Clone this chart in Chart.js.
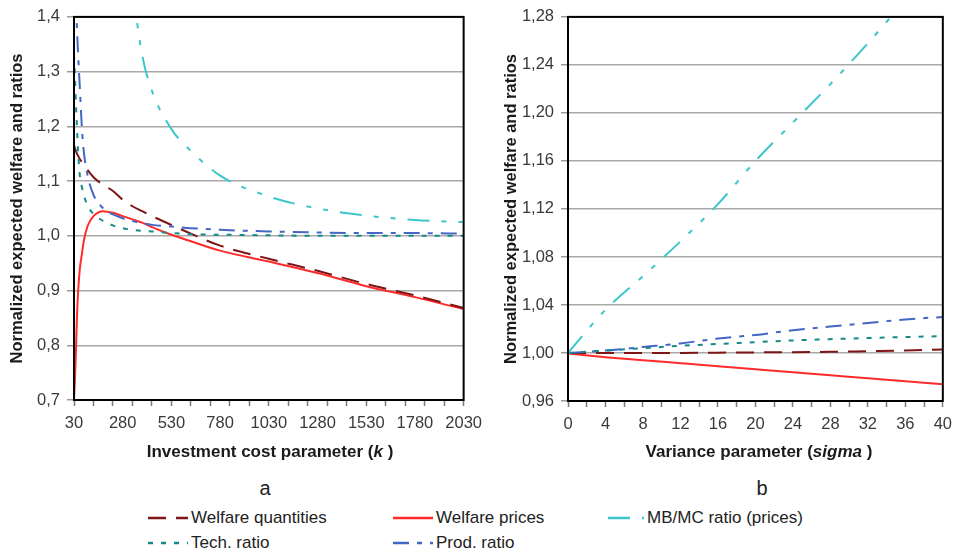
<!DOCTYPE html>
<html>
<head>
<meta charset="utf-8">
<script src="https://cdn.jsdelivr.net/npm/chart.js@4.4.1/dist/chart.umd.min.js"></script>
<style>
  html, body { margin: 0; padding: 0; background: #fff; }
  body { width: 960px; height: 555px; position: relative; overflow: hidden; font-family: "Liberation Sans", Arial, sans-serif; color: #222; }
  canvas { position: absolute; top: 0; }
  #chartA { left: 0; }
  #chartB { left: 480px; }
  .lbl { position: absolute; transform: translate(-50%, -50%); white-space: nowrap; }
  .xt { font-weight: bold; font-size: 17px; color: #1a1a1a; }
  .panel { font-size: 20px; color: #222; }
  .leg { position: absolute; height: 20px; font-size: 17px; line-height: 20px; color: #222; white-space: nowrap; }
  .leg svg { position: absolute; left: 0; top: 0; }
</style>
</head>
<body>
<canvas id="chartA" width="490" height="470"></canvas>
<canvas id="chartB" width="480" height="470"></canvas>

<div class="lbl xt" style="left:270px; top:452px;">Investment cost parameter (<i>k</i> )</div>
<div class="lbl xt" style="left:759px; top:452px;">Variance parameter (<i>sigma</i> )</div>
<div class="lbl panel" style="left:265px; top:488px;">a</div>
<div class="lbl panel" style="left:762px; top:488px;">b</div>
<div id="legend"></div>

<script>
'use strict';

// ---- panel a: investment cost parameter k ----
const kValues = [30, 35, 40, 45, 50, 60, 70, 80, 100, 130, 180, 230, 280, 330, 380, 430, 530, 630, 780, 1030, 1280, 1530, 1780, 2030];
const kWelfareQuantities = [1.165, 1.16, 1.155, 1.15, 1.147, 1.14, 1.135, 1.13, 1.12, 1.107, 1.093, 1.082, 1.066, 1.054, 1.045, 1.036, 1.02, 1.004, 0.982, 0.958, 0.936, 0.912, 0.891, 0.868];
const kWelfarePrices = [0.70, 0.74, 0.79, 0.85, 0.89, 0.94, 0.965, 0.99, 1.018, 1.036, 1.045, 1.042, 1.036, 1.030, 1.024, 1.016, 1.002, 0.990, 0.973, 0.953, 0.932, 0.908, 0.888, 0.866];
const kMbMcRatio = [null, null, null, null, null, null, null, null, null, null, null, null, null, 1.45, 1.33, 1.265, 1.195, 1.155, 1.11, 1.072, 1.05, 1.037, 1.029, 1.025];
const kTechRatio = [1.33, 1.29, 1.24, 1.2, 1.16, 1.11, 1.09, 1.075, 1.055, 1.04, 1.027, 1.019, 1.014, 1.011, 1.009, 1.008, 1.005, 1.003, 1.002, 1.001, 1.0, 1.0, 1.0, 1.0];
const kProdRatio = [1.5, 1.46, 1.42, 1.38, 1.34, 1.27, 1.2, 1.155, 1.11, 1.075, 1.05, 1.039, 1.032, 1.027, 1.023, 1.02, 1.017, 1.014, 1.011, 1.008, 1.006, 1.005, 1.005, 1.004];

const kLabelTicks = [30, 280, 530, 780, 1030, 1280, 1530, 1780, 2030];
const kMarkTicks = [30, 130, 230, 330, 430, 530, 630, 730, 830, 930, 1030, 1130, 1230, 1330, 1430, 1530, 1630, 1730, 1830, 1930, 2030];
const yTicksA = [0.7, 0.8, 0.9, 1.0, 1.1, 1.2, 1.3, 1.4];

// ---- panel b: variance parameter sigma ----
const sigmaValues = [0, 4, 8, 12, 16, 20, 24, 28, 32, 36, 40];
const sWelfareQuantities = [1.0, 1.0, 1.0, 1.0, 1.0003, 1.0005, 1.0007, 1.001, 1.0015, 1.002, 1.003];
const sWelfarePrices = [0.9995, 0.9965, 0.994, 0.9915, 0.989, 0.9865, 0.984, 0.9815, 0.979, 0.9765, 0.974];
const sMbMcRatio = [1.0, 1.036, 1.064, 1.093, 1.124, 1.16, 1.192, 1.224, 1.258, 1.294, 1.33];
const sTechRatio = [1.0, 1.002, 1.004, 1.006, 1.0075, 1.009, 1.0105, 1.0115, 1.0125, 1.0133, 1.014];
const sProdRatio = [1.0, 1.002, 1.005, 1.008, 1.012, 1.015, 1.019, 1.022, 1.025, 1.028, 1.03];

const sigmaLabelTicks = [0, 4, 8, 12, 16, 20, 24, 28, 32, 36, 40];
const sigmaMarkTicks = [0, 2, 4, 6, 8, 10, 12, 14, 16, 18, 20, 22, 24, 26, 28, 30, 32, 34, 36, 38, 40];
const yTicksB = [0.96, 1.00, 1.04, 1.08, 1.12, 1.16, 1.20, 1.24, 1.28];

const seriesNames = ['Welfare quantities', 'Welfare prices', 'MB/MC ratio (prices)', 'Tech. ratio', 'Prod. ratio'];

// line looks
const looks = {
  'Welfare quantities': { color: '#7f1416', dash: [18, 10] },
  'Welfare prices': { color: '#ff2a2a', dash: [] },
  'MB/MC ratio (prices)': { color: '#3cc6cc', dash: [22, 12, 5, 12, 5, 12] },
  'Tech. ratio': { color: '#16898a', dash: [5, 8] },
  'Prod. ratio': { color: '#4466c4', dash: [16, 8, 5, 8] }
};

const FONT = '"Liberation Sans", Arial, sans-serif';

function toPoints(xs, ys) {
  return xs.map((x, i) => ({ x: x, y: ys[i] }));
}

function makeDatasets(xs, columns) {
  // draw order: light ones first, red on top
  const order = ['MB/MC ratio (prices)', 'Tech. ratio', 'Prod. ratio', 'Welfare quantities', 'Welfare prices'];
  return order.map(name => ({
    label: name,
    data: toPoints(xs, columns[name]),
    borderColor: looks[name].color,
    borderDash: looks[name].dash,
    borderWidth: 2,
    pointRadius: 0,
    fill: false,
    cubicInterpolationMode: 'monotone',
    spanGaps: false
  }));
}

const frame = {
  id: 'frame',
  afterDatasetsDraw(chart) {
    const a = chart.chartArea;
    const ctx = chart.ctx;
    ctx.save();
    ctx.strokeStyle = '#000';
    ctx.lineWidth = 2;
    ctx.strokeRect(a.left, a.top, a.right - a.left, a.bottom - a.top);
    ctx.restore();
  }
};

function buildChart(canvasId, cfg) {
  new Chart(document.getElementById(canvasId), {
    type: 'line',
    data: { datasets: makeDatasets(cfg.xs, cfg.columns) },
    options: {
      responsive: false,
      animation: false,
      devicePixelRatio: 1,
      layout: { padding: { top: cfg.padTop, right: cfg.padRight, left: 0, bottom: 0 } },
      plugins: { legend: { display: false }, tooltip: { enabled: false } },
      scales: {
        x: {
          type: 'linear',
          min: cfg.xMin,
          max: cfg.xMax,
          afterBuildTicks(scale) {
            const all = Array.from(new Set(cfg.xLabels.concat(cfg.xMarks))).sort((p, q) => p - q);
            scale.ticks = all.map(v => ({ value: v }));
          },
          afterFit(scale) { scale.height = cfg.xHeight; },
          ticks: {
            autoSkip: false,
            maxRotation: 0,
            padding: 8,
            color: '#3a3a3a',
            font: { family: FONT, size: 16.5 },
            callback: v => (cfg.xLabels.includes(v) ? String(v) : '')
          },
          grid: {
            drawOnChartArea: false,
            drawTicks: true,
            tickLength: 6,
            tickWidth: 1.5,
            tickColor: c => (c.tick && cfg.xMarks.includes(c.tick.value) ? '#7a7a7a' : 'rgba(0,0,0,0)')
          },
          border: { display: true, color: '#000', width: 2 }
        },
        y: {
          type: 'linear',
          min: cfg.yTicks[0],
          max: cfg.yTicks[cfg.yTicks.length - 1],
          afterBuildTicks(scale) {
            scale.ticks = cfg.yTicks.map(v => ({ value: v }));
          },
          afterFit(scale) { scale.width = cfg.yWidth; },
          ticks: {
            padding: 7,
            color: '#3a3a3a',
            font: { family: FONT, size: 16.5 },
            callback: v => v.toFixed(cfg.yDigits).replace('.', ',')
          },
          grid: {
            color: '#a8a8a8',
            lineWidth: 1.5,
            tickLength: 7,
            tickColor: '#9a9a9a'
          },
          border: { display: true, color: '#000', width: 2 },
          title: {
            display: true,
            text: 'Normalized expected welfare and ratios',
            color: '#1a1a1a',
            font: { family: FONT, size: 16.5, weight: 'bold' },
            padding: { top: cfg.titlePad, bottom: 0 }
          }
        }
      }
    },
    plugins: [frame]
  });
}

buildChart('chartA', {
  xs: kValues,
  columns: {
    'Welfare quantities': kWelfareQuantities,
    'Welfare prices': kWelfarePrices,
    'MB/MC ratio (prices)': kMbMcRatio,
    'Tech. ratio': kTechRatio,
    'Prod. ratio': kProdRatio
  },
  xMin: 30, xMax: 2030, xLabels: kLabelTicks, xMarks: kMarkTicks,
  yTicks: yTicksA, yDigits: 1,
  padTop: 12, padRight: 26, xHeight: 70, yWidth: 74, titlePad: 8
});

buildChart('chartB', {
  xs: sigmaValues,
  columns: {
    'Welfare quantities': sWelfareQuantities,
    'Welfare prices': sWelfarePrices,
    'MB/MC ratio (prices)': sMbMcRatio,
    'Tech. ratio': sTechRatio,
    'Prod. ratio': sProdRatio
  },
  xMin: 0, xMax: 40, xLabels: sigmaLabelTicks, xMarks: sigmaMarkTicks,
  yTicks: yTicksB, yDigits: 2,
  padTop: 15, padRight: 9, xHeight: 69, yWidth: 88, titlePad: 22
});

// legend below both panels
const legendSpots = {
  'Welfare quantities': { x: 148, y: 518, w: 40 },
  'Welfare prices': { x: 393, y: 518, w: 40 },
  'MB/MC ratio (prices)': { x: 608, y: 518, w: 36 },
  'Tech. ratio': { x: 148, y: 543, w: 40 },
  'Prod. ratio': { x: 393, y: 543, w: 40 }
};
const legendEl = document.getElementById('legend');
seriesNames.forEach(name => {
  const spot = legendSpots[name];
  const look = looks[name];
  const item = document.createElement('div');
  item.className = 'leg';
  item.style.left = spot.x + 'px';
  item.style.top = (spot.y - 10) + 'px';
  item.style.paddingLeft = (spot.w + 3) + 'px';
  item.innerHTML =
    '<svg width="' + spot.w + '" height="20"><line x1="0" y1="10" x2="' + spot.w + '" y2="10" stroke="' + look.color +
    '" stroke-width="2.5" stroke-dasharray="' + (look.dash.length ? look.dash.join(' ') : 'none') + '"/></svg>';
  item.appendChild(document.createTextNode(name));
  legendEl.appendChild(item);
});
</script>
</body>
</html>
